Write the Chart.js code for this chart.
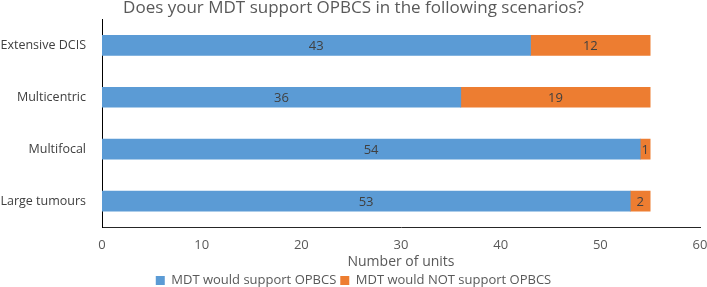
<!DOCTYPE html>
<html>
<head>
<meta charset="utf-8">
<script src="https://cdn.jsdelivr.net/npm/chart.js@4.4.0/dist/chart.umd.min.js"></script>
<style>
  html, body { margin: 0; padding: 0; background: #fff; }
  #wrap { width: 707px; height: 287px; position: relative; }
</style>
</head>
<body>
<div id="wrap"><canvas id="chart"></canvas></div>
<script>
// Data
const scenarios = ["Extensive DCIS", "Multicentric", "Multifocal", "Large tumours"];
const supportValues = [43, 36, 54, 53];
const notSupportValues = [12, 19, 1, 2];
const seriesNames = ["MDT would support OPBCS", "MDT would NOT support OPBCS"];
const xTicks = [0, 10, 20, 30, 40, 50, 60];

const textColor = "#595959";
const fontFamily = "'Open Sans', 'Liberation Sans', sans-serif";

// draw values in the middle of each bar segment
const barLabels = {
  id: "barLabels",
  afterDatasetsDraw(chart) {
    const ctx = chart.ctx;
    ctx.save();
    ctx.fillStyle = "#404040";
    ctx.font = "13px " + fontFamily;
    ctx.textAlign = "center";
    ctx.textBaseline = "middle";
    chart.data.datasets.forEach(function (ds, i) {
      const meta = chart.getDatasetMeta(i);
      meta.data.forEach(function (bar, j) {
        const p = bar.getProps(["x", "y", "base"], true);
        ctx.fillText(ds.data[j], (p.x + p.base) / 2, p.y + 1);
      });
    });
    ctx.restore();
  },
};

new Chart(document.getElementById("chart"), {
  type: "bar",
  data: {
    labels: scenarios,
    datasets: [
      {
        label: seriesNames[0],
        data: supportValues,
        backgroundColor: "#5B9BD5",
        barThickness: 20,
      },
      {
        label: seriesNames[1],
        data: notSupportValues,
        backgroundColor: "#ED7D31",
        barThickness: 20,
      },
    ],
  },
  options: {
    indexAxis: "y",
    responsive: true,
    maintainAspectRatio: false,
    animation: false,
    layout: { padding: { top: -2, right: 0, bottom: -10, left: 0 } },
    plugins: {
      title: {
        display: true,
        text: "Does your MDT support OPBCS in the following scenarios?",
        color: textColor,
        font: { family: fontFamily, size: 17, weight: "normal" },
        padding: { top: 0, bottom: 1 },
      },
      legend: {
        position: "bottom",
        labels: {
          color: textColor,
          font: { family: fontFamily, size: 13 },
          boxWidth: 9,
          boxHeight: 9,
          padding: 4,
        },
      },
      tooltip: { enabled: false },
    },
    scales: {
      x: {
        stacked: true,
        min: 0,
        max: 60,
        afterBuildTicks: function (axis) {
          axis.ticks = xTicks.map(function (v) { return { value: v }; });
        },
        afterFit: function (axis) {
          axis.height = 43;
          axis.paddingRight = 7;
        },
        grid: { display: false },
        border: { display: true, color: "#262626", width: 1 },
        ticks: {
          color: textColor,
          font: { family: fontFamily, size: 13 },
          padding: 2,
        },
        title: {
          display: true,
          text: "Number of units",
          color: textColor,
          font: { family: fontFamily, size: 14 },
          padding: { top: 0, bottom: 0 },
        },
      },
      y: {
        stacked: true,
        grid: { display: false },
        border: { display: true, color: "#000", width: 1 },
        ticks: {
          color: "#404040",
          font: { family: fontFamily, size: 12.5 },
          padding: 8,
        },
        afterFit: function (axis) { axis.width = 102; },
      },
    },
  },
  plugins: [barLabels],
});
</script>
</body>
</html>
